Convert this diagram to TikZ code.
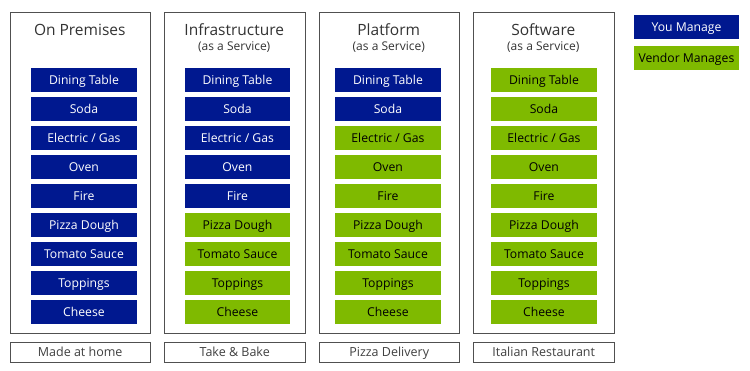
\documentclass[tikz,border=0pt]{standalone}
\usepackage{fontspec}
\setmainfont{Open Sans}
\definecolor{navy}{RGB}{0,24,143}
\definecolor{vgreen}{RGB}{127,186,0}
\definecolor{frame}{RGB}{80,80,80}
\begin{document}
\begin{tikzpicture}[x=1pt,y=-1pt,
  colbox/.style={draw=frame,line width=0.9pt,fill=white,minimum width=140.5pt,minimum height=321pt,anchor=north west,inner sep=0pt},
  labbox/.style={draw=frame,line width=0.9pt,fill=white,minimum width=140.5pt,minimum height=20.5pt,anchor=north west,inner sep=0pt,font=\fontsize{12.5}{13}\selectfont,text=black!75,text height=10pt,text depth=2pt},
  you/.style={fill=navy,text=white,minimum width=105.5pt,minimum height=24pt,anchor=north west,inner sep=0pt,font=\fontsize{12.2}{13}\selectfont,text height=10.5pt,text depth=1pt},
  vendor/.style={fill=vgreen,text=black,minimum width=105.5pt,minimum height=24pt,anchor=north west,inner sep=0pt,font=\fontsize{12.2}{13}\selectfont,text height=10.5pt,text depth=1pt},
  ttl/.style={font=\fontsize{15.5}{16}\selectfont,text=black!80,inner sep=0pt},
  sub/.style={font=\fontsize{12}{13}\selectfont,text=black!80,inner sep=0pt}]
\useasboundingbox (0,0) rectangle (750,371);
% columns
\node[colbox] (c1) at (9.5,12) {};
\node[colbox] (c2) at (164,12) {};
\node[colbox] (c3) at (318.5,12) {};
\node[colbox] (c4) at (473,12) {};
% titles
\node[ttl] (t1) at (79.75,30) {On Premises};
\node[ttl] (t2) at (234.25,30) {Infrastructure};
\node[sub] (s2) at (234.25,47) {(as a Service)};
\node[ttl] (t3) at (388.75,30) {Platform};
\node[sub] (s3) at (388.75,47) {(as a Service)};
\node[ttl] (t4) at (543.25,30) {Software};
\node[sub] (s4) at (543.25,47) {(as a Service)};
% items
\foreach \lab [count=\i] in {Dining Table,Soda,Electric / Gas,Oven,Fire,Pizza Dough,Tomato Sauce,Toppings,Cheese}{
  \pgfmathsetmacro{\yy}{68+29*(\i-1)}
  \node[you] (a\i) at (31,\yy) {\lab};
  \ifnum\i<6 \node[you] (b\i) at (184.5,\yy) {\lab}; \else \node[vendor] (b\i) at (184.5,\yy) {\lab}; \fi
  \ifnum\i<3 \node[you] (p\i) at (335,\yy) {\lab}; \else \node[vendor] (p\i) at (335,\yy) {\lab}; \fi
  \node[vendor] (s\i) at (491,\yy) {\lab};
}
% bottom labels
\node[labbox] (l1) at (9.5,342) {Made at home};
\node[labbox] (l2) at (164,342) {Take \& Bake};
\node[labbox] (l3) at (318.5,342) {Pizza Delivery};
\node[labbox] (l4) at (473,342) {Italian Restaurant};
% legend
\node[you,minimum width=104.5pt] (ly) at (634,15) {You Manage};
\node[vendor,minimum width=104.5pt] (lv) at (634,46) {Vendor Manages};
\end{tikzpicture}
\end{document}
